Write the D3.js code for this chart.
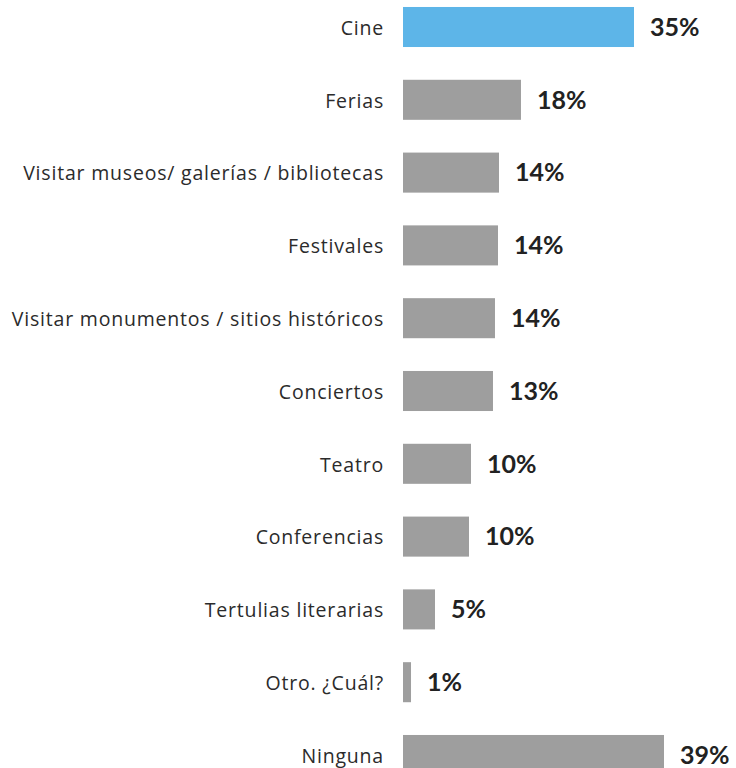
<!DOCTYPE html>
<html>
<head>
<meta charset="utf-8">
<script src="https://cdn.jsdelivr.net/npm/d3@7"></script>
<style>
  html, body { margin: 0; padding: 0; background: #fff; }
  svg { display: block; }
</style>
</head>
<body>
<svg id="chart" width="736" height="768"></svg>
<script>
const categories = [
  "Cine", "Ferias", "Visitar museos/ galerías / bibliotecas", "Festivales",
  "Visitar monumentos / sitios históricos", "Conciertos", "Teatro",
  "Conferencias", "Tertulias literarias", "Otro. ¿Cuál?", "Ninguna"
];
const values = [0.3458, 0.1766, 0.1437, 0.1422, 0.1377, 0.1347, 0.1018, 0.0988, 0.0479, 0.012, 0.3907];
const valueLabels = ["35%", "18%", "14%", "14%", "14%", "13%", "10%", "10%", "5%", "1%", "39%"];
const highlighted = ["Cine"];

const svg = d3.select("#chart");
const x = d3.scaleLinear().domain([0, 1]).range([403, 403 + 668]);
const y = d3.scaleBand().domain(categories).range([-9.4, 791.4]).paddingInner(0.45).paddingOuter(0.225);

const data = categories.map((c, i) => ({ c, v: values[i], l: valueLabels[i] }));

svg.selectAll("rect.bar").data(data).join("rect")
  .attr("class", "bar")
  .attr("x", x(0))
  .attr("y", d => y(d.c))
  .attr("width", d => x(d.v) - x(0))
  .attr("height", y.bandwidth())
  .attr("fill", d => highlighted.includes(d.c) ? "#5db5e8" : "#9e9e9e");

svg.selectAll("text.cat").data(data).join("text")
  .attr("class", "cat")
  .attr("x", 384)
  .attr("y", d => y(d.c) + y.bandwidth() / 2 + 1)
  .attr("dy", "0.35em")
  .attr("text-anchor", "end")
  .attr("font-family", "'Open Sans', 'Noto Sans', sans-serif")
  .attr("font-size", 19.5)
  .attr("letter-spacing", "0.8px")
  .attr("fill", "#2b2b2b")
  .text(d => d.c);

svg.selectAll("text.val").data(data).join("text")
  .attr("class", "val")
  .attr("x", d => x(d.v) + 16)
  .attr("y", d => y(d.c) + y.bandwidth() / 2)
  .attr("dy", "0.35em")
  .attr("font-family", "Lato, 'Open Sans', sans-serif")
  .attr("font-weight", "bold")
  .attr("font-size", 25)
  .attr("fill", "#222")
  .text(d => d.l);
</script>
</body>
</html>
